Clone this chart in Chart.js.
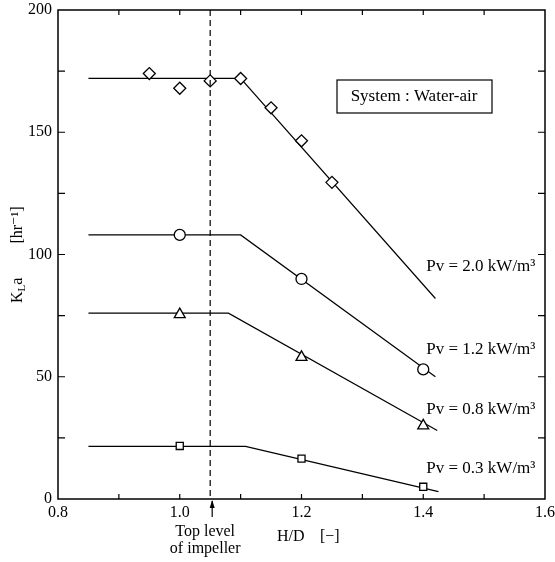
<!DOCTYPE html>
<html>
<head>
<meta charset="utf-8">
<title>KLa vs H/D</title>
<script src="https://cdn.jsdelivr.net/npm/chart.js@4.4.0/dist/chart.umd.min.js"></script>
<style>
  html, body { margin: 0; padding: 0; background: #fff; }
</style>
</head>
<body>
<canvas id="chart" width="555" height="562"></canvas>
<script>
// Axis ticks
const xTicks = [0.8, 1.0, 1.2, 1.4, 1.6];
const yTicks = [0, 50, 100, 150, 200];

// Measured points (H/D, KLa)
const hd20 = [0.95, 1.0, 1.05, 1.1, 1.15, 1.2, 1.25];
const kla20 = [174, 168, 171, 172, 160, 146.5, 129.5];
const hd12 = [1.0, 1.2, 1.4];
const kla12 = [108, 90, 53];
const hd08 = [1.0, 1.2, 1.4];
const kla08 = [75.5, 58, 30];
const hd03 = [1.0, 1.2, 1.4];
const kla03 = [21.7, 16.5, 5];

// Fitted lines (start, break point, end)
const fitX20 = [0.85, 1.1, 1.42];
const fitY20 = [172, 172, 82];
const fitX12 = [0.85, 1.1, 1.42];
const fitY12 = [108, 108, 50];
const fitX08 = [0.85, 1.08, 1.423];
const fitY08 = [76, 76, 28];
const fitX03 = [0.85, 1.108, 1.425];
const fitY03 = [21.5, 21.5, 3];

const seriesLabels = ['Pv = 2.0 kW/m³', 'Pv = 1.2 kW/m³', 'Pv = 0.8 kW/m³', 'Pv = 0.3 kW/m³'];
const impellerHD = 1.05;

const SERIF = '"Liberation Serif", "DejaVu Serif", serif';

function pts(xs, ys) {
    return xs.map((x, i) => ({ x: x, y: ys[i] }));
}

function fitLine(xs, ys) {
    return {
        type: 'line',
        data: pts(xs, ys),
        borderColor: '#000',
        borderWidth: 1.2,
        pointRadius: 0,
        fill: false,
        tension: 0,
        order: 2
    };
}

function marks(xs, ys, style, r) {
    return {
        type: 'scatter',
        data: pts(xs, ys),
        pointStyle: style,
        pointRadius: r,
        pointBorderColor: '#000',
        pointBackgroundColor: '#fff',
        pointBorderWidth: 1.3,
        showLine: false,
        order: 1
    };
}

// frame, inward ticks, dashed line, annotations
const decorations = {
    id: 'decorations',
    afterDatasetsDraw(chart) {
        const ctx = chart.ctx;
        const a = chart.chartArea;
        const xs = chart.scales.x;
        const ys = chart.scales.y;
        ctx.save();
        ctx.strokeStyle = '#000';
        ctx.fillStyle = '#000';

        // frame
        ctx.lineWidth = 1.5;
        ctx.strokeRect(a.left, a.top, a.right - a.left, a.bottom - a.top);

        // inward tick marks
        ctx.lineWidth = 1.2;
        ctx.beginPath();
        for (let v = 0.9; v < 1.6; v += 0.1) {
            const px = xs.getPixelForValue(v);
            ctx.moveTo(px, a.bottom); ctx.lineTo(px, a.bottom - 5);
            ctx.moveTo(px, a.top); ctx.lineTo(px, a.top + 5);
        }
        for (let v = 25; v < 200; v += 25) {
            const py = ys.getPixelForValue(v);
            ctx.moveTo(a.left, py); ctx.lineTo(a.left + 7, py);
            ctx.moveTo(a.right, py); ctx.lineTo(a.right - 7, py);
        }
        ctx.stroke();

        // top level of impeller
        const ix = xs.getPixelForValue(impellerHD);
        ctx.setLineDash([6, 4]);
        ctx.beginPath();
        ctx.moveTo(ix, a.top);
        ctx.lineTo(ix, a.bottom);
        ctx.stroke();
        ctx.setLineDash([]);
        ctx.beginPath();
        ctx.moveTo(ix + 2, a.bottom + 18);
        ctx.lineTo(ix + 2, a.bottom + 2);
        ctx.stroke();
        ctx.beginPath();
        ctx.moveTo(ix + 2, a.bottom + 1);
        ctx.lineTo(ix - 0.5, a.bottom + 9);
        ctx.lineTo(ix + 4.5, a.bottom + 9);
        ctx.closePath();
        ctx.fill();

        ctx.font = '16px ' + SERIF;
        ctx.textAlign = 'center';
        ctx.textBaseline = 'middle';
        ctx.fillText('Top level', ix - 5, a.bottom + 33);
        ctx.fillText('of impeller', ix - 5, a.bottom + 50);

        ctx.textAlign = 'left';
        ctx.fillText('H/D', 277, a.bottom + 38);
        ctx.fillText('[\u2212]', 320, a.bottom + 38);

        // series labels
        ctx.font = '17px ' + SERIF;
        const labelY = [95, 61, 36.4, 12.6];
        seriesLabels.forEach((t, i) => {
            ctx.fillText(t, xs.getPixelForValue(1.405), ys.getPixelForValue(labelY[i]));
        });

        // system box
        ctx.textAlign = 'center';
        ctx.font = '17px ' + SERIF;
        ctx.fillText('System : Water-air', 414, 97);
        ctx.lineWidth = 1.2;
        ctx.strokeRect(337, 80, 155, 33);

        // y axis title
        ctx.save();
        ctx.translate(18, 0);
        ctx.rotate(-Math.PI / 2);
        ctx.textAlign = 'center';
        ctx.font = '16px ' + SERIF;
        ctx.fillText('[hr\u207B\u00B9]', -225, 0);
        // K_L a
        ctx.textAlign = 'left';
        let x0 = -303;
        ctx.fillText('K', x0, 0);
        x0 += ctx.measureText('K').width;
        ctx.font = '11px ' + SERIF;
        ctx.fillText('L', x0, 4);
        x0 += ctx.measureText('L').width;
        ctx.font = '16px ' + SERIF;
        ctx.fillText('a', x0, 0);
        ctx.restore();

        ctx.restore();
    }
};

new Chart(document.getElementById('chart'), {
    type: 'scatter',
    data: {
        datasets: [
            marks(hd20, kla20, 'rectRot', 6),
            marks(hd12, kla12, 'circle', 5.5),
            marks(hd08, kla08, 'triangle', 6.3),
            marks(hd03, kla03, 'rect', 5),
            fitLine(fitX20, fitY20),
            fitLine(fitX12, fitY12),
            fitLine(fitX08, fitY08),
            fitLine(fitX03, fitY03)
        ]
    },
    options: {
        responsive: false,
        animation: false,
        devicePixelRatio: 1,
        layout: { padding: { top: 10, right: 10, left: 0, bottom: 0 } },
        plugins: {
            legend: { display: false },
            tooltip: { enabled: false }
        },
        scales: {
            x: {
                type: 'linear',
                min: 0.8,
                max: 1.6,
                afterBuildTicks: s => { s.ticks = xTicks.map(v => ({ value: v })); },
                afterFit: s => {
                    s.height = 63;
                    s.paddingLeft = 0;
                    s.paddingRight = 0;
                },
                grid: { display: false, drawTicks: false },
                border: { display: false },
                ticks: {
                    color: '#000',
                    padding: 4,
                    font: { family: SERIF, size: 16 },
                    callback: v => v.toFixed(1)
                }
            },
            y: {
                min: 0,
                max: 200,
                afterBuildTicks: s => { s.ticks = yTicks.map(v => ({ value: v })); },
                afterFit: s => {
                    s.width = 58;
                    s.paddingTop = 0;
                    s.paddingBottom = 0;
                },
                grid: { display: false, drawTicks: false },
                border: { display: false },
                ticks: {
                    color: '#000',
                    padding: 6,
                    font: { family: SERIF, size: 16 }
                }
            }
        }
    },
    plugins: [decorations]
});
</script>
</body>
</html>
